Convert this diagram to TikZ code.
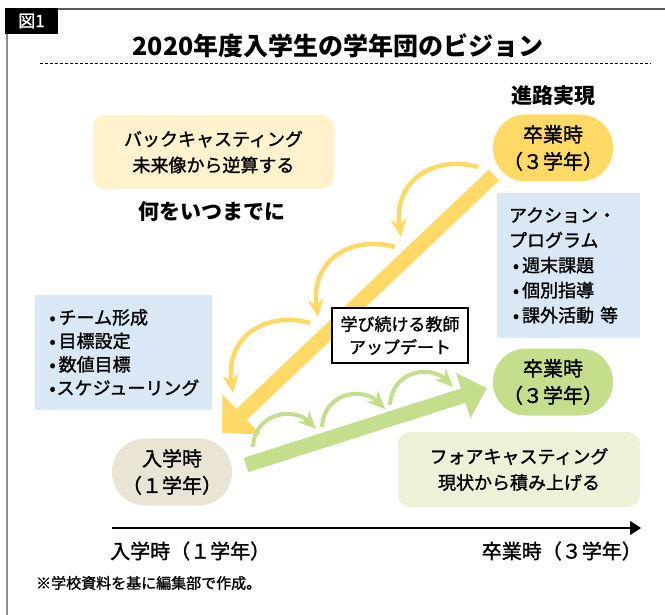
\documentclass[tikz,border=0pt]{standalone}
\usepackage{fontspec}
\setmainfont{Noto Sans CJK JP}[UprightFeatures={FakeBold=1.4}]
\usepackage{xcolor}
\usetikzlibrary{arrows.meta,positioning}
\definecolor{amarelo}{RGB}{255,217,102}
\definecolor{amareloclaro}{RGB}{255,242,204}
\definecolor{azulclaro}{RGB}{218,231,245}
\definecolor{verde}{RGB}{197,222,140}
\definecolor{verdeclaro}{RGB}{235,242,215}
\definecolor{bege}{RGB}{234,228,212}
\definecolor{cinza}{RGB}{90,90,90}

\begin{document}
\begin{tikzpicture}[x=1pt,y=-1pt,
  capsula/.style={rectangle,rounded corners=33pt,minimum width=120pt,minimum height=67pt,align=center,inner sep=0pt,font=\fontsize{20}{27}\selectfont},
  caixa/.style={rectangle,rounded corners=12pt,align=center,inner sep=0pt,font=\fontsize{18}{26}\selectfont},
  lista/.style={rectangle,fill=azulclaro,align=left,inner ysep=0pt,font=\fontsize{18}{24}\selectfont},
  seta/.style={line width=15pt},
  arco/.style={line width=4.5pt,-{Stealth[length=18pt,width=16pt,inset=6pt]}}]
\useasboundingbox (0,0) rectangle (665,615);
% Moldura
\draw[cinza,line width=1.5pt] (58,9) -- (665,9);
\draw[cinza!70,line width=1.5pt] (7,34) -- (7,615);
\node[fill=black,text=white,minimum width=53pt,minimum height=26pt,inner sep=0pt,font=\fontsize{17}{17}\selectfont] (fig) at (31.5,21) {図1};
% Titulo
\node[font=\bfseries\fontsize{25}{25}\selectfont] (titulo) at (338,46) {2020年度入学生の学年団のビジョン};
\draw[dash pattern=on 3pt off 2pt,line width=0.8pt] (40,63) -- (651,63);
% Setas grandes
\coordinate (ycauda) at (494,175);
\coordinate (yponta) at (222,433);
\draw[seta,amarelo,-{Triangle[length=27pt,width=54pt]}] (ycauda) -- (yponta);
\coordinate (vcauda) at (246,465);
\coordinate (vponta) at (487,388);
\draw[seta,verde,-{Triangle[length=25pt,width=46pt]}] (vcauda) -- (vponta);
% Arcos
\foreach \x/\y in {478/167,395/247,310/323}
  \draw[arco,amarelo] (\x,\y) .. controls +(-42,-12) and +(-8,-58) .. ++(-77,70);
\foreach \x/\y in {253/447,322/427,390/405}
  \draw[arco,verde,line width=4pt] (\x,\y) .. controls +(2,-35) and +(-22,-22) .. ++(63,-18);
% Caixas
\node[font=\bfseries\fontsize{21}{21}\selectfont] (rumo) at (553,96) {進路実現};
\node[capsula,fill=amarelo] (fim3) at (553,148) {卒業時\\（３学年）};
\node[caixa,fill=amareloclaro,minimum width=241pt,minimum height=74pt] (back) at (213.5,152) {バックキャスティング\\未来像から逆算する};
\node[font=\bfseries\fontsize{21}{21}\selectfont] (quando) at (212,212) {何をいつまでに};
\node[lista,text width=119pt,inner xsep=12pt,minimum height=145pt,font=\fontsize{18}{25}\selectfont] (acao) at (568.5,265.5)
  {アクション・\\プログラム\\\hspace*{4pt}•\hspace{3pt}週末課題\\\hspace*{4pt}•\hspace{3pt}個別指導\\\hspace*{4pt}•\hspace{3pt}課外活動 等};
\node[lista,text width=158pt,inner xsep=9.5pt,minimum height=115pt,font=\fontsize{18}{23.5}\selectfont] (plano) at (123.5,352.5)
  {\hspace*{5pt}•\hspace{3pt}チーム形成\\\hspace*{5pt}•\hspace{3pt}目標設定\\\hspace*{5pt}•\hspace{3pt}数値目標\\\mbox{\hspace*{5pt}•\hspace{1pt}スケジューリング}};
\node[draw,line width=2pt,fill=white,minimum width=136pt,minimum height=55pt,align=center,inner sep=0pt,font=\fontsize{17}{23}\selectfont] (mestre) at (400,335.5) {学び続ける教師\\アップデート};
\node[capsula,fill=verde] (fim3v) at (553,382) {卒業時\\（３学年）};
\node[caixa,fill=verdeclaro,minimum width=242pt,minimum height=75pt] (fore) at (519,469.5) {フォアキャスティング\\現状から積み上げる};
\node[capsula,fill=bege] (ini1) at (172,472) {入学時\\（１学年）};
% Linha do tempo
\coordinate (t0) at (112,528);
\coordinate (t1) at (641,528);
\draw[line width=1.5pt,-{Triangle[length=11pt,width=14pt]}] (t0) -- (t1);
\node[anchor=west,inner sep=0pt,font=\fontsize{20}{20}\selectfont] (lab1) at (110,551) {入学時（１学年）};
\node[anchor=east,inner sep=0pt,font=\fontsize{20}{20}\selectfont] (lab3) at (642,551) {卒業時（３学年）};
\node[anchor=west,inner sep=0pt,font=\fontsize{15}{15}\selectfont] (fonte) at (36,583) {※学校資料を基に編集部で作成。};
\end{tikzpicture}
\end{document}
